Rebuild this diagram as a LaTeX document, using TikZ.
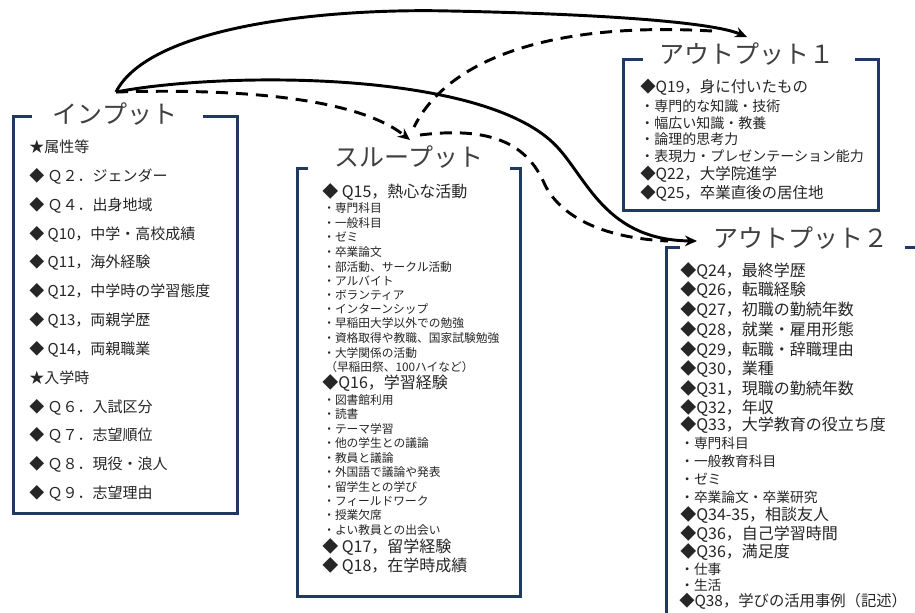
\documentclass[tikz,border=0pt]{standalone}
\usepackage{fontspec}
\setmainfont{Noto Sans CJK JP}
\usetikzlibrary{arrows.meta}
\definecolor{navy}{HTML}{1F3864}
\definecolor{txt}{HTML}{262626}
\definecolor{ttlc}{HTML}{404040}
\begin{document}
\begin{tikzpicture}[x=0.75pt,y=-0.75pt,
  frame/.style={draw=navy,line width=2.25pt},
  ttl/.style={inner sep=0pt,font=\fontsize{18.75}{20}\selectfont,text=ttlc},
  inb/.style={anchor=west,inner sep=0pt,font=\fontsize{11.25}{13}\selectfont,text=txt},
  tpm/.style={anchor=west,inner sep=0pt,font=\fontsize{12}{14}\selectfont,text=txt},
  tps/.style={anchor=west,inner sep=0pt,font=\fontsize{8.8}{10}\selectfont,text=txt},
  oam/.style={anchor=west,inner sep=0pt,font=\fontsize{11.6}{13}\selectfont,text=txt},
  oas/.style={anchor=west,inner sep=0pt,font=\fontsize{10.5}{12}\selectfont,text=txt},
  obm/.style={anchor=west,inner sep=0pt,font=\fontsize{12}{14}\selectfont,text=txt},
  obs/.style={anchor=west,inner sep=0pt,font=\fontsize{10.3}{12}\selectfont,text=txt},
  conn/.style={line width=2.2pt},
  arr/.style={conn,-{Stealth[length=9pt,width=8pt]}},
  dsh/.style={dash pattern=on 9pt off 6pt}]
\useasboundingbox (0,0) rectangle (915,612);
\clip (0,0) rectangle (915,612);
\fill[white] (0,0) rectangle (915,612);

% frames
\draw[frame] (32,116) -- (13,116) -- (13,513) -- (237,513) -- (237,116) -- (203,116);
\draw[frame] (308,168) -- (297,168) -- (297,596) -- (520,596) -- (520,168) -- (510,168);
\draw[frame] (643,59) -- (623,59) -- (623,210) -- (878,210) -- (878,59) -- (855,59);
\draw[frame] (680,247) -- (666,247) -- (666,640);
\draw[frame] (905,247) -- (935,247);

% titles
\node[ttl] (tIn) at (115,114) {インプット};
\node[ttl] (tTp) at (409,157) {スループット};
\node[ttl] (tOa) at (747,54) {アウトプット１};
\node[ttl] (tOb) at (801,238) {アウトプット２};

% input items
\node[inb] (i1) at (29,147) {★属性等};
\node[inb] (i2) at (29,176) {◆ Ｑ２．ジェンダー};
\node[inb] (i3) at (29,205) {◆ Ｑ４．出身地域};
\node[inb] (i4) at (29,234) {◆ Q10，中学・高校成績};
\node[inb] (i5) at (29,262) {◆ Q11，海外経験};
\node[inb] (i6) at (29,291) {◆ Q12，中学時の学習態度};
\node[inb] (i7) at (29,320) {◆ Q13，両親学歴};
\node[inb] (i8) at (29,349) {◆ Q14，両親職業};
\node[inb] (i9) at (29,378) {★入学時};
\node[inb] (i10) at (29,407) {◆ Ｑ６．入試区分};
\node[inb] (i11) at (29,435) {◆ Ｑ７．志望順位};
\node[inb] (i12) at (29,464) {◆ Ｑ８．現役・浪人};
\node[inb] (i13) at (29,493) {◆ Ｑ９．志望理由};

% throughput items
\node[tpm] (t1) at (322,192) {◆ Q15，熱心な活動};
\node[tps] (t2) at (323,208) {・専門科目};
\node[tps] (t3) at (323,223) {・一般科目};
\node[tps] (t4) at (323,237) {・ゼミ};
\node[tps] (t5) at (323,252) {・卒業論文};
\node[tps] (t6) at (323,267) {・部活動、サークル活動};
\node[tps] (t7) at (323,281) {・アルバイト};
\node[tps] (t8) at (323,295) {・ボランティア};
\node[tps] (t9) at (323,309) {・インターンシップ};
\node[tps] (t10) at (323,323) {・早稲田大学以外での勉強};
\node[tps] (t11) at (323,338) {・資格取得や教職、国家試験勉強};
\node[tps] (t12) at (323,353) {・大学関係の活動};
\node[tps] (t13) at (325,367) {（早稲田祭、100ハイなど）};
\node[tpm] (t14) at (322,383) {◆Q16，学習経験};
\node[tps] (t15) at (323,400) {・図書館利用};
\node[tps] (t16) at (323,414) {・読書};
\node[tps] (t17) at (323,429) {・テーマ学習};
\node[tps] (t18) at (323,443) {・他の学生との議論};
\node[tps] (t19) at (323,458) {・教員と議論};
\node[tps] (t20) at (323,472) {・外国語で議論や発表};
\node[tps] (t21) at (323,487) {・留学生との学び};
\node[tps] (t22) at (323,501) {・フィールドワーク};
\node[tps] (t23) at (323,515) {・授業欠席};
\node[tps] (t24) at (323,530) {・よい教員との出会い};
\node[tpm] (t25) at (322,547) {◆ Q17，留学経験};
\node[tpm] (t26) at (322,566) {◆ Q18，在学時成績};

% output 1 items
\node[oam] (a1) at (640,87) {◆Q19，身に付いたもの};
\node[oas] (a2) at (640,106) {・専門的な知識・技術};
\node[oas] (a3) at (640,123) {・幅広い知識・教養};
\node[oas] (a4) at (640,139) {・論理的思考力};
\node[oas] (a5) at (640,156) {・表現力・プレゼンテーション能力};
\node[oam] (a6) at (640,174) {◆Q22，大学院進学};
\node[oam] (a7) at (640,193) {◆Q25，卒業直後の居住地};

% output 2 items
\node[obm] (b1) at (680,271) {◆Q24，最終学歴};
\node[obm] (b2) at (680,290) {◆Q26，転職経験};
\node[obm] (b3) at (680,310) {◆Q27，初職の勤続年数};
\node[obm] (b4) at (680,330) {◆Q28，就業・雇用形態};
\node[obm] (b5) at (680,350) {◆Q29，転職・辞職理由};
\node[obm] (b6) at (680,369) {◆Q30，業種};
\node[obm] (b7) at (680,389) {◆Q31，現職の勤続年数};
\node[obm] (b8) at (680,408) {◆Q32，年収};
\node[obm] (b9) at (680,425) {◆Q33，大学教育の役立ち度};
\node[obs] (b10) at (680,443) {・専門科目};
\node[obs] (b11) at (680,461) {・一般教育科目};
\node[obs] (b12) at (680,479) {・ゼミ};
\node[obs] (b13) at (680,497) {・卒業論文・卒業研究};
\node[obm] (b14) at (680,515) {◆Q34-35，相談友人};
\node[obm] (b15) at (680,534) {◆Q36，自己学習時間};
\node[obm] (b16) at (680,552) {◆Q36，満足度};
\node[obs] (b17) at (680,569) {・仕事};
\node[obs] (b18) at (680,585) {・生活};
\node[obm,font=\fontsize{11.5}{13}\selectfont] (b19) at (679,601) {◆Q38，学びの活用事例（記述）};

% connector end points
\coordinate (cusp) at (116,92);
\coordinate (oatip) at (747,37);
\coordinate (oastart) at (712,31);
\coordinate (tptip) at (410,140);
\coordinate (tpin) at (414,127);
\coordinate (tpstart) at (420,135);
\coordinate (obtip) at (697,241);
\coordinate (obend) at (668,241);
\coordinate (bend1) at (550,140);
\coordinate (bend2) at (545,185);

% connectors
\draw[arr] (cusp) .. controls (150,25) and (330,8) .. (450,11) .. controls (600,14) and (712,22) .. (oatip);
\draw[arr] (cusp) .. controls (220,72) and (470,70) .. (bend1) .. controls (585,170) and (600,240) .. (obtip);
\draw[arr,dsh] (cusp) .. controls (250,88) and (360,100) .. (tptip);
\draw[conn,dsh] (oastart) .. controls (560,22) and (450,55) .. (tpin);
\draw[conn,dsh] (tpstart) .. controls (500,125) and (530,150) .. (bend2) .. controls (560,215) and (600,238) .. (obend);
\end{tikzpicture}
\end{document}
